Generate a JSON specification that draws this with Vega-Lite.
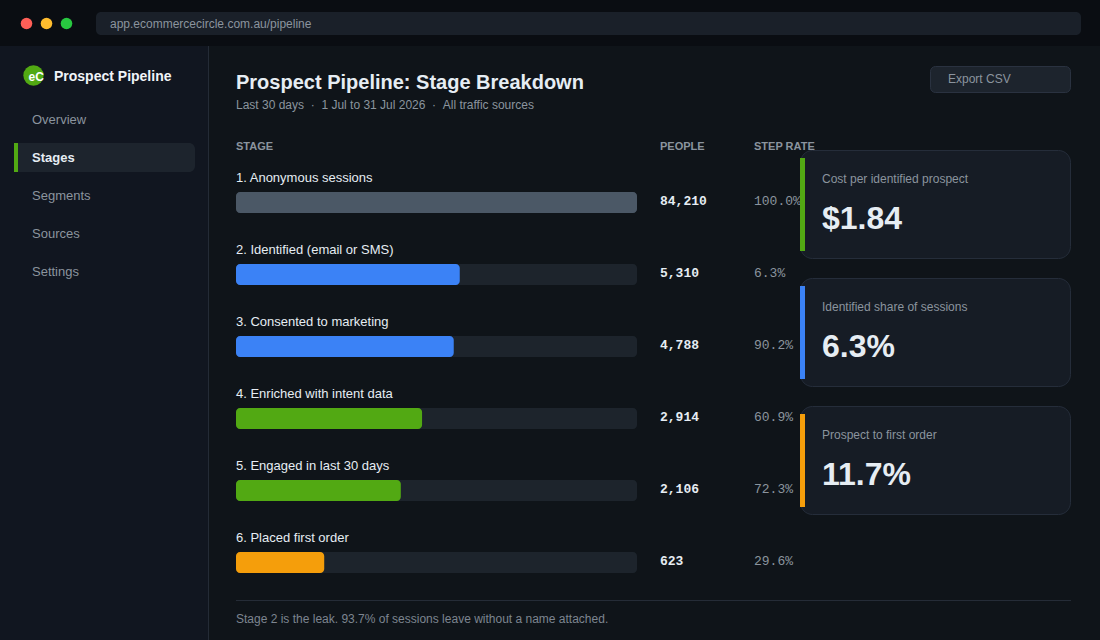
{
  "$schema": "https://vega.github.io/schema/vega-lite/v6.json",
  "autosize": {"type": "none"},
  "width": 1100,
  "height": 640,
  "padding": 0,
  "background": "#0f1419",
  "config": {"view": {"stroke": null}, "font": "Liberation Sans"},
  "datasets": {
    "stages": [
      {"stage": "1. Anonymous sessions", "people": 84210, "step_rate": 1.0, "fill_pct": 100, "tier": "sessions"},
      {"stage": "2. Identified (email or SMS)", "people": 5310, "step_rate": 0.063, "fill_pct": 55.8, "tier": "identified"},
      {"stage": "3. Consented to marketing", "people": 4788, "step_rate": 0.902, "fill_pct": 54.3, "tier": "identified"},
      {"stage": "4. Enriched with intent data", "people": 2914, "step_rate": 0.609, "fill_pct": 46.4, "tier": "engaged"},
      {"stage": "5. Engaged in last 30 days", "people": 2106, "step_rate": 0.723, "fill_pct": 41.1, "tier": "engaged"},
      {"stage": "6. Placed first order", "people": 623, "step_rate": 0.296, "fill_pct": 22, "tier": "ordered"}
    ],
    "cards": [
      {"label": "Cost per identified prospect", "value": "$1.84", "tier": "engaged"},
      {"label": "Identified share of sessions", "value": "6.3%", "tier": "identified"},
      {"label": "Prospect to first order", "value": "11.7%", "tier": "ordered"}
    ],
    "nav": [
      {"item": "Overview", "active": false},
      {"item": "Stages", "active": true},
      {"item": "Segments", "active": false},
      {"item": "Sources", "active": false},
      {"item": "Settings", "active": false}
    ],
    "one": [{}]
  },
  "layer": [
    {"data": {"name": "one"}, "mark": {"type": "rect", "x": 0, "x2": 1100, "y": 0, "y2": 46, "fill": "#0a0d12"}, "encoding": {}},
    {"data": {"name": "one"}, "mark": {"type": "rect", "x": 0, "x2": 208, "y": 46, "y2": 640, "fill": "#111620"}, "encoding": {}},
    {"data": {"name": "one"}, "mark": {"type": "rect", "x": 208, "x2": 209, "y": 46, "y2": 640, "fill": "#242b36"}, "encoding": {}},
    {"data": {"name": "one"}, "mark": {"type": "point", "filled": true, "opacity": 1, "x": 26.5, "y": 23.5, "size": 133, "fill": "#ff5f57"}, "encoding": {}},
    {"data": {"name": "one"}, "mark": {"type": "point", "filled": true, "opacity": 1, "x": 46.5, "y": 23.5, "size": 133, "fill": "#febc2e"}, "encoding": {}},
    {"data": {"name": "one"}, "mark": {"type": "point", "filled": true, "opacity": 1, "x": 66.5, "y": 23.5, "size": 133, "fill": "#28c840"}, "encoding": {}},
    {"data": {"name": "one"}, "mark": {"type": "rect", "x": 96, "x2": 1081, "y": 12, "y2": 35, "fill": "#1a2029", "cornerRadius": 5}, "encoding": {}},
    {"data": {"name": "one"}, "mark": {"type": "text", "x": 110, "y": 24, "align": "left", "baseline": "middle", "fontSize": 12, "fill": "#8b949e", "text": "app.ecommercecircle.com.au/pipeline"}, "encoding": {}},
    {"data": {"name": "one"}, "mark": {"type": "point", "filled": true, "opacity": 1, "x": 33.5, "y": 75.5, "size": 415, "fill": "#52a913"}, "encoding": {}},
    {"data": {"name": "one"}, "mark": {"type": "text", "x": 36.2, "y": 76.5, "align": "center", "baseline": "middle", "fontSize": 12, "fontWeight": "bold", "fill": "#ffffff", "text": "eC"}, "encoding": {}},
    {"data": {"name": "one"}, "mark": {"type": "text", "x": 54, "y": 77, "align": "left", "baseline": "middle", "fontSize": 14, "fontWeight": "bold", "fill": "#f0f4f8", "text": "Prospect Pipeline"}, "encoding": {}},
    {"data": {"name": "one"}, "mark": {"type": "rect", "x": 14, "x2": 195, "y": 143, "y2": 172, "fill": "#1d242d", "cornerRadius": 6}, "encoding": {}},
    {"data": {"name": "one"}, "mark": {"type": "rect", "x": 14, "x2": 18, "y": 143, "y2": 172, "fill": "#52a913"}, "encoding": {}},
    {
      "data": {"name": "nav"},
      "encoding": {
        "y": {"field": "item", "type": "nominal", "sort": null, "axis": null, "scale": {"type": "point", "padding": 0, "domain": ["Overview", "Stages", "Segments", "Sources", "Settings"], "range": [119.5, 271.5]}},
        "text": {"field": "item"}
      },
      "layer": [
        {
          "transform": [{"filter": "!datum.active"}],
          "mark": {"type": "text", "x": 32, "align": "left", "baseline": "middle", "fontSize": 13, "fill": "#8b949e"}
        },
        {
          "transform": [{"filter": "datum.active"}],
          "mark": {"type": "text", "x": 32, "align": "left", "baseline": "middle", "fontSize": 13, "fontWeight": "bold", "fill": "#e6edf3"}
        }
      ]
    },
    {"data": {"name": "one"}, "mark": {"type": "text", "x": 236, "y": 83, "align": "left", "baseline": "middle", "fontSize": 20, "fontWeight": "bold", "fill": "#e6edf3", "text": "Prospect Pipeline: Stage Breakdown"}, "encoding": {}},
    {"data": {"name": "one"}, "mark": {"type": "text", "x": 236, "y": 105, "align": "left", "baseline": "middle", "fontSize": 12, "fill": "#8b949e", "text": "Last 30 days\u00a0\u00a0·\u00a0\u00a01 Jul to 31 Jul 2026\u00a0\u00a0·\u00a0\u00a0All traffic sources"}, "encoding": {}},
    {"data": {"name": "one"}, "mark": {"type": "rect", "x": 930.5, "x2": 1070.5, "y": 66.5, "y2": 92.5, "fill": "#1d242d", "stroke": "#2a3240", "cornerRadius": 5}, "encoding": {}},
    {"data": {"name": "one"}, "mark": {"type": "text", "x": 948, "y": 79, "align": "left", "baseline": "middle", "fontSize": 12, "fill": "#8b949e", "text": "Export CSV"}, "encoding": {}},
    {"data": {"name": "one"}, "mark": {"type": "text", "x": 236, "y": 147, "align": "left", "baseline": "middle", "fontSize": 11, "fontWeight": "bold", "fill": "#8b949e", "text": "STAGE"}, "encoding": {}},
    {"data": {"name": "one"}, "mark": {"type": "text", "x": 660, "y": 147, "align": "left", "baseline": "middle", "fontSize": 11, "fontWeight": "bold", "fill": "#8b949e", "text": "PEOPLE"}, "encoding": {}},
    {"data": {"name": "one"}, "mark": {"type": "text", "x": 754, "y": 147, "align": "left", "baseline": "middle", "fontSize": 11, "fontWeight": "bold", "fill": "#8b949e", "text": "STEP RATE"}, "encoding": {}},
    {
      "data": {"name": "stages"},
      "encoding": {
        "y": {"field": "stage", "type": "nominal", "sort": null, "axis": null, "scale": {"type": "point", "padding": 0, "domain": ["1. Anonymous sessions", "2. Identified (email or SMS)", "3. Consented to marketing", "4. Enriched with intent data", "5. Engaged in last 30 days", "6. Placed first order"], "range": [202.5, 562.5]}}
      },
      "layer": [
        {
          "mark": {"type": "bar", "size": 21, "cornerRadius": 4, "fill": "#1d242c"},
          "encoding": {"x": {"datum": 100, "type": "quantitative", "axis": null, "scale": {"domain": [0, 100], "range": [236, 637]}}}
        },
        {
          "mark": {"type": "bar", "size": 21, "cornerRadius": 4},
          "encoding": {
            "x": {"field": "fill_pct", "type": "quantitative", "axis": null, "stack": null, "scale": {"domain": [0, 100], "range": [236, 637]}},
            "color": {"field": "tier", "type": "nominal", "legend": null, "scale": {"domain": ["sessions", "identified", "engaged", "ordered"], "range": ["#4b5866", "#3b82f6", "#52a913", "#f59e0b"]}}
          }
        },
        {
          "mark": {"type": "text", "align": "left", "baseline": "middle", "dy": -25, "fontSize": 13, "fill": "#e6edf3"},
          "encoding": {
            "x": {"datum": 0, "type": "quantitative", "axis": null, "scale": {"domain": [0, 100], "range": [236, 637]}},
            "text": {"field": "stage"}
          }
        },
        {
          "mark": {"type": "text", "align": "left", "baseline": "middle", "dx": 23, "dy": -2, "fontSize": 13, "fontWeight": "bold", "font": "Liberation Mono", "fill": "#e6edf3"},
          "encoding": {
            "x": {"datum": 100, "type": "quantitative", "axis": null, "scale": {"domain": [0, 100], "range": [236, 637]}},
            "text": {"field": "people", "type": "quantitative", "format": ","}
          }
        },
        {
          "mark": {"type": "text", "align": "left", "baseline": "middle", "dx": 117, "dy": -2, "fontSize": 13, "font": "Liberation Mono", "fill": "#8b949e"},
          "encoding": {
            "x": {"datum": 100, "type": "quantitative", "axis": null, "scale": {"domain": [0, 100], "range": [236, 637]}},
            "text": {"field": "step_rate", "type": "quantitative", "format": ".1%"}
          }
        }
      ]
    },
    {
      "data": {"name": "cards"},
      "encoding": {
        "y": {"field": "label", "type": "nominal", "sort": null, "axis": null, "scale": {"type": "point", "padding": 0, "domain": ["Cost per identified prospect", "Identified share of sessions", "Prospect to first order"], "range": [204.5, 460.5]}}
      },
      "layer": [
        {"mark": {"type": "rect", "x": 800.5, "x2": 1070.5, "height": 108, "fill": "#161c25", "stroke": "#252d3a", "cornerRadius": 12}},
        {
          "mark": {"type": "rect", "x": 800, "x2": 805, "height": 93},
          "encoding": {"color": {"field": "tier", "type": "nominal", "legend": null, "scale": {"domain": ["sessions", "identified", "engaged", "ordered"], "range": ["#4b5866", "#3b82f6", "#52a913", "#f59e0b"]}}}
        },
        {
          "mark": {"type": "text", "x": 822, "align": "left", "baseline": "middle", "dy": -25.5, "fontSize": 12, "fill": "#8b949e"},
          "encoding": {"text": {"field": "label"}}
        },
        {
          "mark": {"type": "text", "x": 822, "align": "left", "baseline": "middle", "dy": 14, "fontSize": 32, "fontWeight": "bold", "fill": "#e6edf3"},
          "encoding": {"text": {"field": "value"}}
        }
      ]
    },
    {"data": {"name": "one"}, "mark": {"type": "rect", "x": 236, "x2": 1071, "y": 600, "y2": 601, "fill": "#252c37"}, "encoding": {}},
    {"data": {"name": "one"}, "mark": {"type": "text", "x": 236, "y": 619, "align": "left", "baseline": "middle", "fontSize": 12, "fill": "#7d8590", "text": "Stage 2 is the leak. 93.7% of sessions leave without a name attached."}, "encoding": {}}
  ],
  "resolve": {"scale": {"y": "independent", "x": "independent", "color": "independent"}}
}
